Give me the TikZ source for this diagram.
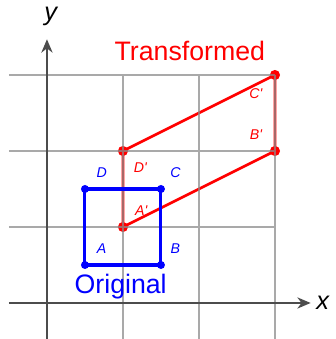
\documentclass[tikz,border=0pt]{standalone}
\usepackage{fontspec}
\setmainfont{Liberation Sans}
\usetikzlibrary{arrows.meta,calc}
\begin{document}
\begin{tikzpicture}[x=1cm,y=1cm,
  gridline/.style={line width=0.55pt,draw=black!45,opacity=0.75},
  axisline/.style={line width=0.7pt,draw=black!70,-{Stealth[length=5pt,width=4.2pt,inset=1.6pt]}},
  axislbl/.style={font=\fontsize{9.5}{11}\selectfont\itshape,inner sep=0pt},
  bluepoly/.style={draw=blue,line width=1.15pt},
  redpoly/.style={draw=red,line width=1pt},
  bluedot/.style={fill=blue,circle,inner sep=0pt,minimum size=3pt},
  reddot/.style={fill=red,circle,inner sep=0pt,minimum size=3.8pt},
  bluelbl/.style={text=blue,font=\fontsize{5.3}{6}\selectfont\itshape,inner sep=0pt},
  redlbl/.style={text=red,font=\fontsize{5.3}{6}\selectfont\itshape,inner sep=0pt},
  titlelbl/.style={font=\fontsize{10}{12}\selectfont,inner sep=0pt,anchor=base}]
\useasboundingbox (-0.618,-0.474) rectangle (3.803,3.987);
% points
\coordinate (A) at (0.5,0.5);
\coordinate (B) at (1.5,0.5);
\coordinate (C) at (1.5,1.5);
\coordinate (D) at (0.5,1.5);
\coordinate (A1) at (1,1);
\coordinate (B1) at (3,2);
\coordinate (C1) at (3,3);
\coordinate (D1) at (1,2);
% transformed shape
\draw[redpoly] (A1) -- (B1) -- (C1) -- (D1) -- cycle;
\foreach \p in {A1,B1,C1,D1} \node[reddot] at (\p) {};
% grid
\draw[gridline] (-0.5,-0.6) grid (3,3);
% axes
\coordinate (xs) at (-0.5,0);
\coordinate (xe) at (3.47,0);
\coordinate (ys) at (0,-0.6);
\coordinate (ye) at (0,3.47);
\draw[axisline] (xs) -- (xe);
\draw[axisline] (ys) -- (ye);
\node[axislbl] (xl) at (3.63,0.0) {x};
\node[axislbl] (yl) at (0.05,3.77) {y};
% original shape
\draw[bluepoly] (A) -- (B) -- (C) -- (D) -- cycle;
\foreach \p in {A,B,C,D} \node[bluedot] at (\p) {};
% labels
\node[bluelbl] (la) at ($(A)+(0.22,0.22)$) {A};
\node[bluelbl] (lb) at ($(B)+(0.19,0.22)$) {B};
\node[bluelbl] (lc) at ($(C)+(0.19,0.21)$) {C};
\node[bluelbl] (ld) at ($(D)+(0.22,0.21)$) {D};
\node[redlbl] (la1) at ($(A1)+(0.24,0.22)$) {A\textquotesingle};
\node[redlbl] (lb1) at ($(B1)+(-0.25,0.22)$) {B\textquotesingle};
\node[redlbl] (lc1) at ($(C1)+(-0.25,-0.25)$) {C\textquotesingle};
\node[redlbl] (ld1) at ($(D1)+(0.23,-0.22)$) {D\textquotesingle};
\node[titlelbl,text=red] (tt) at (1.88,3.197) {Transformed};
\node[titlelbl,text=blue] (to) at (0.97,0.13) {Original};
\end{tikzpicture}
\end{document}
